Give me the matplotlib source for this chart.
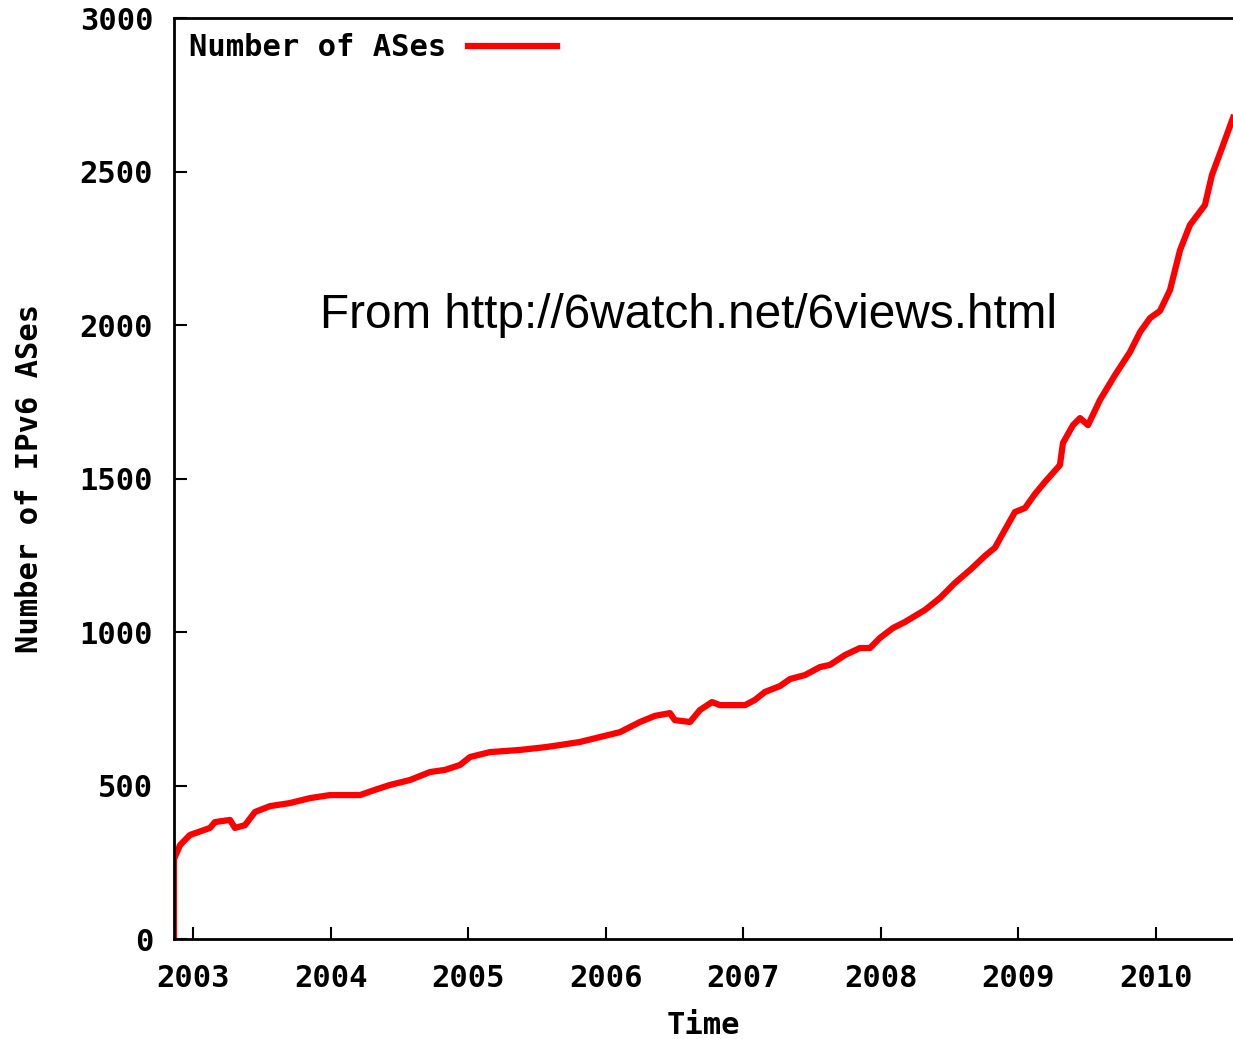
import numpy as np
import matplotlib.pyplot as plt

# time in decimal years, number of IPv6 ASes
years = [2002.862, 2002.862, 2002.876, 2002.906, 2002.978, 2003.124, 2003.160, 2003.269,
         2003.305, 2003.378, 2003.451, 2003.560, 2003.705, 2003.850, 2003.996, 2004.214,
         2004.323, 2004.432, 2004.577, 2004.723, 2004.832, 2004.941, 2005.014, 2005.159,
         2005.377, 2005.559, 2005.668, 2005.813, 2005.958, 2006.104, 2006.249, 2006.358,
         2006.467, 2006.503, 2006.613, 2006.685, 2006.773, 2006.831, 2007.013, 2007.085,
         2007.158, 2007.267, 2007.340, 2007.449, 2007.558, 2007.630, 2007.739, 2007.848,
         2007.921, 2007.994, 2008.088, 2008.176, 2008.321, 2008.430, 2008.539, 2008.648,
         2008.757, 2008.830, 2008.902, 2008.975, 2009.048, 2009.121, 2009.193, 2009.302,
         2009.324, 2009.397, 2009.448, 2009.506, 2009.593, 2009.702, 2009.811, 2009.884,
         2009.957, 2010.029, 2010.102, 2010.175, 2010.247, 2010.356, 2010.407, 2010.480,
         2010.560]
ases = [0, 260, 275, 306, 339, 362, 381, 388,
        362, 371, 414, 433, 443, 459, 469, 469,
        486, 502, 518, 544, 551, 567, 593, 609,
        616, 625, 632, 642, 658, 674, 707, 727,
        736, 713, 707, 746, 772, 762, 762, 779,
        805, 824, 847, 860, 886, 893, 925, 948,
        948, 981, 1013, 1033, 1072, 1111, 1160, 1202,
        1248, 1275, 1333, 1391, 1404, 1450, 1489, 1544,
        1616, 1674, 1697, 1674, 1756, 1837, 1912, 1977,
        2023, 2046, 2114, 2244, 2326, 2391, 2489, 2577,
        2675]

year_ticks = [2003, 2004, 2005, 2006, 2007, 2008, 2009, 2010]
y_ticks = [0, 500, 1000, 1500, 2000, 2500, 3000]

mono = 'DejaVu Sans Mono'
fs = 22

fig = plt.figure(figsize=(12.33, 10.39), dpi=100)
ax = fig.add_axes([0.1411, 0.0962, 0.8589, 0.8864])

ax.plot(years, ases, color='red', lw=4.5, label='Number of ASes')

ax.set_xlim(2002.862, 2010.56)
ax.set_ylim(0, 3000)
ax.set_xticks(year_ticks)
ax.set_yticks(y_ticks)
ax.set_xticklabels([str(y) for y in year_ticks], family=mono, weight='bold', fontsize=fs)
ax.set_yticklabels([str(v) for v in y_ticks], family=mono, weight='bold', fontsize=fs)
ax.tick_params(axis='x', direction='in', length=9, width=1.5, pad=18)
ax.tick_params(axis='y', direction='in', length=9, width=1.5, pad=15)

for s in ['left', 'bottom', 'top']:
    ax.spines[s].set_linewidth(2)
ax.spines['right'].set_visible(False)

ax.set_xlabel('Time', family=mono, weight='bold', fontsize=fs, labelpad=13)
ax.set_ylabel('Number of IPv6 ASes', family=mono, weight='bold', fontsize=fs, labelpad=26)

ax.legend(loc='upper left', frameon=False, markerfirst=False, handlelength=2.9,
          handletextpad=0.7, prop={'family': mono, 'weight': 'bold', 'size': fs},
          borderaxespad=0.2, borderpad=0.3)

ax.text(0.486, 0.677, 'From http://6watch.net/6views.html', transform=ax.transAxes,
        family='Liberation Sans', fontsize=34.4, ha='center', va='center')

fig.savefig('out.png', dpi=100)
